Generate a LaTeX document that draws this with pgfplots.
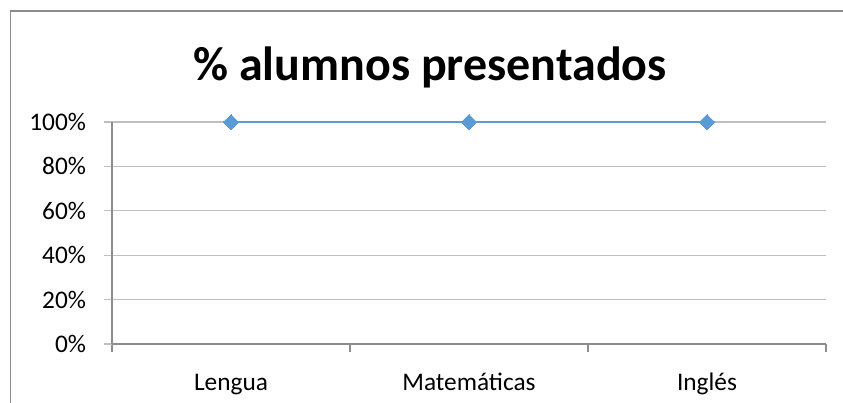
\documentclass[border=0pt]{standalone}
\usepackage{fontspec}
\setmainfont{Carlito}
\usepackage{pgfplots}
\pgfplotsset{compat=1.18}
\definecolor{serie}{HTML}{5B9BD5}
\definecolor{rejilla}{HTML}{BFBFBF}
\definecolor{eje}{HTML}{8C8C8C}
\begin{document}
\begin{tikzpicture}
\useasboundingbox (0,0) rectangle (632.25pt,302.25pt);
% marco del grafico (solo arriba e izquierda visibles)
\draw[eje, line width=0.8pt] (7.9pt,0) -- (7.9pt,294pt) -- (632.25pt,294pt);
\node[font=\fontsize{36}{42}\selectfont\bfseries] at (322.5pt,252pt) {\% alumnos presentados};
\begin{axis}[
  at={(84pt,44.25pt)}, anchor=south west,
  scale only axis,
  width=535.5pt, height=166.5pt,
  xmin=-0.5, xmax=2.5,
  ymin=0, ymax=100,
  axis lines*=left,
  axis line style={eje, line width=0.8pt},
  xtick={0,1,2},
  xticklabels={Lengua,Matemáticas,Inglés},
  minor xtick={-0.5,0.5,1.5,2.5},
  major x tick style={draw=none},
  minor x tick style={eje, line width=0.8pt},
  ytick={0,20,40,60,80,100},
  yticklabels={0\%,20\%,40\%,60\%,80\%,100\%},
  ytick style={rejilla, line width=0.8pt},
  tick align=outside,
  major tick length=6pt,
  minor tick length=6pt,
  ymajorgrids,
  major grid style={rejilla, line width=0.8pt},
  tick label style={font=\fontsize{19}{22}\selectfont},
  xticklabel style={anchor=base, yshift=-29pt},
  yticklabel style={anchor=east, xshift=-10pt},
  clip=false,
]
\addplot[serie, line width=1.9pt, mark=square*, mark size=4pt,
  mark options={rotate=45, fill=serie, draw=serie, line width=0pt}]
  coordinates {(0,100) (1,100) (2,100)};
\end{axis}
\end{tikzpicture}
\end{document}
